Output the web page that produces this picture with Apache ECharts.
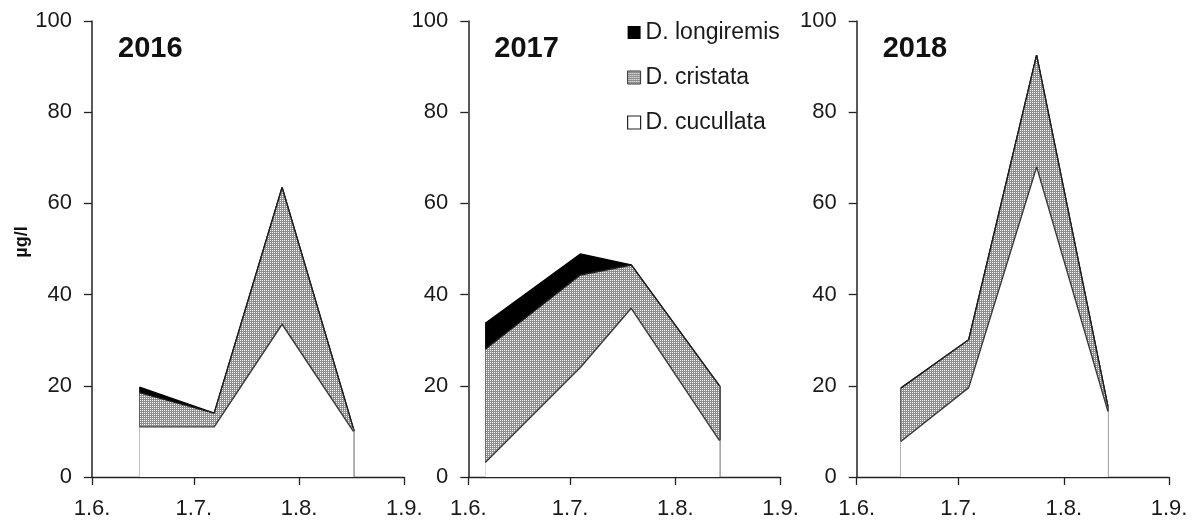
<!DOCTYPE html>
<html>
<head>
<meta charset="utf-8">
<title>Daphnia biomass 2016–2018</title>
<script src="https://cdn.jsdelivr.net/npm/echarts@6/dist/echarts.min.js"></script>
<style>
  html, body { margin: 0; padding: 0; background: #fff; }
  #chart { width: 1194px; height: 520px; }
</style>
</head>
<body>
<div id="chart"></div>
<script>
// Sampling dates and biomass (µg/l) per species, one block per year
const years = ['2016', '2017', '2018'];

const dates2016 = ['2016-06-15', '2016-07-07', '2016-07-27', '2016-08-17'];
const cucullata2016 = [11, 11, 33.5, 10];
const cristata2016 = [7.5, 3, 30, 0.6];
const longiremis2016 = [1.2, 0, 0, 0];

const dates2017 = ['2017-06-06', '2017-07-04', '2017-07-19', '2017-08-14'];
const cucullata2017 = [3.2, 24, 37, 8];
const cristata2017 = [24.8, 20.3, 9.5, 12];
const longiremis2017 = [5.7, 4.6, 0, 0];

const dates2018 = ['2018-06-14', '2018-07-04', '2018-07-24', '2018-08-14'];
const cucullata2018 = [7.8, 19.6, 68, 14.4];
const cristata2018 = [11.7, 10.5, 24.5, 1.1];
const longiremis2018 = [0, 0, 0, 0];

// x-axis ticks: first day of each month, June to September
const xTickDays = ['06-01', '07-01', '08-01', '09-01'];
const xTickLabels = ['1.6.', '1.7.', '1.8.', '1.9.'];

// y-axis scale
const yMin = 0, yMax = 100, yStep = 20;

const speciesNames = ['D. cucullata', 'D. cristata', 'D. longiremis'];

const panels = [
  { year: years[0], dates: dates2016, values: [cucullata2016, cristata2016, longiremis2016] },
  { year: years[1], dates: dates2017, values: [cucullata2017, cristata2017, longiremis2017] },
  { year: years[2], dates: dates2018, values: [cucullata2018, cristata2018, longiremis2018] }
];

// Stippled fill used for D. cristata: grey mesh with white pin holes
function stipple() {
  const c = document.createElement('canvas');
  c.width = 2; c.height = 2;
  const g = c.getContext('2d');
  g.fillStyle = '#8e8e8e';
  g.fillRect(0, 0, 2, 2);
  g.fillStyle = '#ffffff';
  g.fillRect(0, 0, 1, 1);
  return c;
}
const dots = { image: stipple(), repeat: 'repeat' };

const fills = ['#ffffff', dots, '#000000'];
const edgeColors = ['#8c8c8c', '#1e1e1e', '#000000'];
const topColors = ['#3a3a3a', '#1e1e1e', '#000000'];

const FONT = '"Liberation Sans", Arial, sans-serif';
const gridLefts = [92, 468.3, 856.7];
const gridWidth = 312.3;

const ts = s => Date.parse(s);

const grids = [], xAxes = [], yAxes = [], series = [], titles = [];

panels.forEach((p, gi) => {
  const y = p.year;
  const tickTs = xTickDays.map(d => ts(y + '-' + d));
  const labelFor = v => {
    const i = tickTs.findIndex(t => Math.abs(t - v) < 43200000);
    return i >= 0 ? xTickLabels[i] : '';
  };
  grids.push({ left: gridLefts[gi], width: gridWidth, top: 21, bottom: 43, containLabel: false });
  xAxes.push({
    type: 'value', gridIndex: gi,
    min: tickTs[0], max: tickTs[tickTs.length - 1],
    splitLine: { show: false },
    axisLine: { lineStyle: { color: '#222', width: 1.3 } },
    axisTick: { show: true, length: 8, inside: false, customValues: tickTs, lineStyle: { color: '#222', width: 1.3 } },
    axisLabel: {
      customValues: tickTs, margin: 21, fontSize: 22, color: '#1a1a1a', fontFamily: FONT,
      formatter: v => labelFor(v)
    }
  });
  yAxes.push({
    type: 'value', gridIndex: gi, min: yMin, max: yMax, interval: yStep,
    splitLine: { show: false },
    axisLine: { show: true, lineStyle: { color: '#222', width: 1.5 } },
    axisTick: { show: true, length: 8, inside: false, lineStyle: { color: '#222', width: 1.3 } },
    axisLabel: { margin: 20, fontSize: 22, color: '#1a1a1a', fontFamily: FONT },
    name: gi === 0 ? 'µg/l' : '',
    nameLocation: 'middle', nameRotate: 90, nameGap: 58,
    nameTextStyle: { fontSize: 18, fontWeight: 'bold', color: '#111', fontFamily: FONT, padding: [0, 0, 0, 14] }
  });
  titles.push({
    text: y, left: gridLefts[gi] + 26, top: 34, padding: 0,
    textStyle: { fontSize: 29, fontWeight: 'bold', color: '#111', fontFamily: FONT }
  });

  // Cumulative layers: each species is drawn from zero up to its running total,
  // lower species painted over the higher ones so each band shows its own share.
  const xs = p.dates.map(ts);
  const base = xs.map(() => 0);
  p.values.forEach((vals, si) => {
    const lower = base.slice();
    const upper = vals.map((v, k) => lower[k] + v);
    const last = xs.length - 1;
    const edges = [];
    [0, last].forEach(k => {
      if (upper[k] > lower[k]) {
        edges.push([{ coord: [xs[k], lower[k]] }, { coord: [xs[k], upper[k]] }]);
      }
    });
    series.push({
      name: speciesNames[si], type: 'line',
      xAxisIndex: gi, yAxisIndex: gi,
      data: xs.map((x, k) => [x, upper[k]]),
      showSymbol: false, symbol: 'none',
      lineStyle: { color: topColors[si], width: 1.4 },
      areaStyle: { color: fills[si], opacity: 1, origin: 'start' },
      z: 6 - si,
      markLine: {
        silent: true, symbol: ['none', 'none'], animation: false,
        label: { show: false },
        lineStyle: { color: edgeColors[si], width: 1.5, type: 'solid' },
        data: edges
      }
    });
    vals.forEach((v, k) => { base[k] += v; });
  });
});

const chart = echarts.init(document.getElementById('chart'), null, { renderer: 'canvas' });
chart.setOption({
  animation: false,
  backgroundColor: '#ffffff',
  title: titles,
  grid: grids,
  xAxis: xAxes,
  yAxis: yAxes,
  legend: {
    orient: 'vertical', left: 627, top: 21, padding: 0,
    itemWidth: 13, itemHeight: 13, itemGap: 22,
    selectedMode: false,
    textStyle: { fontSize: 23, color: '#1a1a1a', fontFamily: FONT, lineHeight: 22 },
    data: [
      { name: 'D. longiremis', icon: 'rect', itemStyle: { color: '#000000', borderWidth: 0 } },
      { name: 'D. cristata', icon: 'rect', itemStyle: { color: dots, borderColor: '#333', borderWidth: 1 } },
      { name: 'D. cucullata', icon: 'rect', itemStyle: { color: '#ffffff', borderColor: '#222', borderWidth: 1.2 } }
    ]
  },
  series: series
});
</script>
</body>
</html>
